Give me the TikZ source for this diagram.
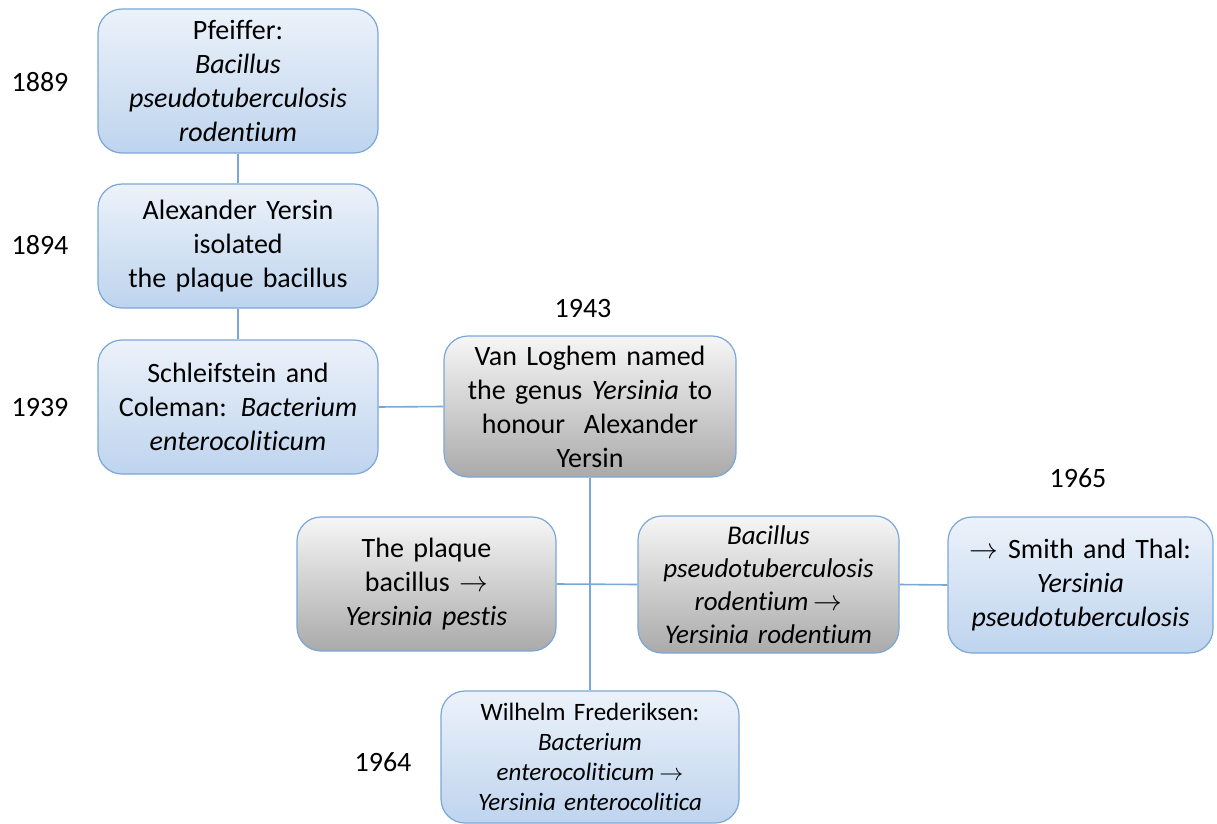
\documentclass[tikz,border=0pt]{standalone}
\usepackage{fontspec}
\setmainfont{Carlito}[RawFeature={-liga;-clig;-calt;-dlig}]
\definecolor{bordc}{RGB}{123,167,215}
\definecolor{btop}{RGB}{236,242,250}
\definecolor{bbot}{RGB}{190,212,238}
\definecolor{gtop}{RGB}{246,246,246}
\definecolor{gbot}{RGB}{170,170,170}
\tikzset{
  box/.style={rounded corners=12pt, draw=bordc, line width=0.6pt, align=center, inner sep=0pt, font=\fontsize{14}{17}\selectfont},
  bluebox/.style={box, top color=btop, bottom color=bbot},
  graybox/.style={box, top color=gtop, bottom color=gbot},
  conn/.style={draw=bordc, line width=0.8pt},
  yr/.style={font=\fontsize{14}{17}\selectfont, inner sep=0pt}
}
\newcommand{\ra}{\ensuremath{\rightarrow}}
\begin{document}
\begin{tikzpicture}[x=0.5pt,y=-0.5pt]
\useasboundingbox (0,0) rectangle (1217,824);
\node[bluebox, minimum width=140pt, minimum height=72pt, text width=134pt] (p) at (238,81)
  {Pfeiffer:\\\textit{Bacillus}\\\textit{pseudotuberculosis}\\\textit{rodentium}};
\node[bluebox, minimum width=140pt, minimum height=62pt, text width=134pt] (y) at (238,246)
  {Alexander Yersin\\isolated\\the plaque bacillus};
\node[bluebox, minimum width=140pt, minimum height=67pt, text width=134pt] (s) at (238,407)
  {Schleifstein and\\Coleman: \textit{Bacterium}\\\textit{enterocoliticum}};
\node[graybox, minimum width=146pt, minimum height=70.5pt, text width=140pt] (v) at (590,406.5)
  {Van Loghem named\\the genus \textit{Yersinia} to\\honour~ Alexander\\Yersin};
\node[graybox, minimum width=129.5pt, minimum height=67pt, text width=124pt] (pl) at (426.5,584)
  {The plaque\\bacillus \ra\\\textit{Yersinia pestis}};
\node[graybox, minimum width=130.5pt, minimum height=68.5pt, text width=126pt, font=\fontsize{13.5}{16.5}\selectfont] (r) at (768.5,584.5)
  {\textit{Bacillus}\\\textit{pseudotuberculosis}\\\textit{rodentium}\kern2.5pt\ra\\\textit{Yersinia rodentium}};
\node[bluebox, minimum width=132.5pt, minimum height=68pt, text width=128pt] (sm) at (1080.5,585)
  {\ra\ Smith and Thal:\\\textit{Yersinia}\\\textit{pseudotuberculosis}};
\node[bluebox, minimum width=149pt, minimum height=66pt, text width=144pt, font=\fontsize{12.5}{15}\selectfont] (w) at (590,757)
  {Wilhelm Frederiksen:\\\textit{Bacterium}\\\textit{enterocoliticum}\kern2.5pt\ra\\\textit{Yersinia enterocolitica}};
\node[yr] (y1) at (40,82) {1889};
\node[yr] (y2) at (40,245) {1894};
\node[yr] (y3) at (40,408) {1939};
\node[yr] (y4) at (583,309) {1943};
\node[yr] (y5) at (1078,478) {1965};
\node[yr] (y6) at (383,762) {1964};
\draw[conn] (p.south) -- (y.north);
\draw[conn] (y.south) -- (s.north);
\draw[conn] (s.east) -- (v.west);
\draw[conn] (v.south) -- (w.north);
\draw[conn] (pl.east) -- (r.west);
\draw[conn] (r.east) -- (sm.west);
\end{tikzpicture}
\end{document}
